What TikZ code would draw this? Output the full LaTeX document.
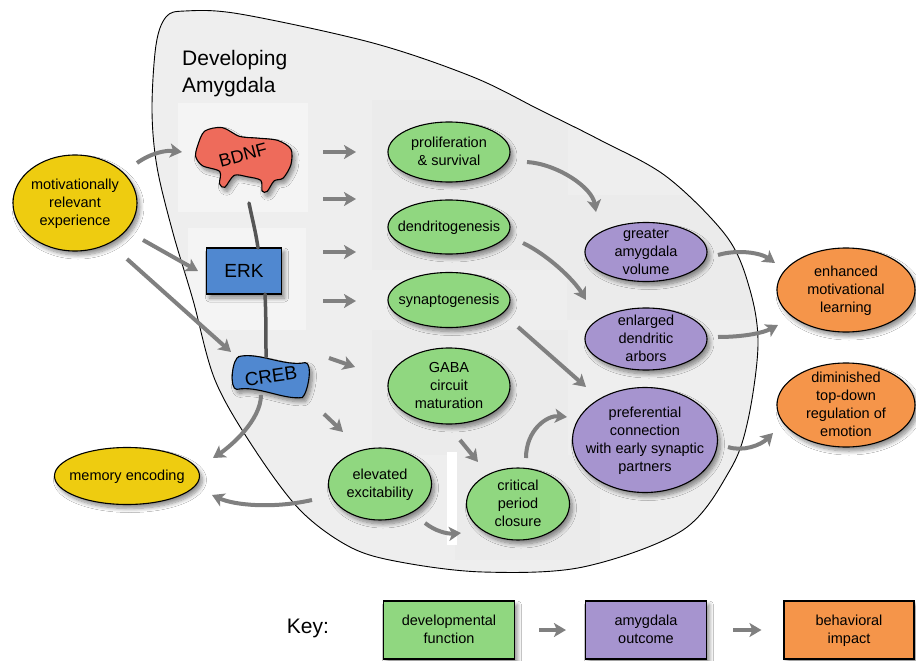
\documentclass[tikz,border=0pt]{standalone}
\usepackage{fontspec}
\setmainfont{Liberation Sans}
\usetikzlibrary{shapes.geometric,arrows.meta,calc,shadows.blur}
\definecolor{cyel}{RGB}{238,204,16}
\definecolor{cgreen}{RGB}{144,215,128}
\definecolor{cpurp}{RGB}{166,148,207}
\definecolor{corange}{RGB}{245,149,74}
\definecolor{cred}{RGB}{238,107,91}
\definecolor{cblue}{RGB}{80,136,208}
\definecolor{carrow}{RGB}{128,128,128}
\definecolor{cline}{RGB}{85,85,85}
\newcommand{\ztext}[1]{\makebox[0pt]{\raisebox{-0.3em}[0pt][0pt]{\begin{tabular}{@{}c@{}}#1\end{tabular}}}}
\def\amypath{plot[smooth cycle, tension=0.55] coordinates {(152,110) (156,45) (166,17) (185,11) (240,14) (373,43) (473,77) (540,110) (600,140) (667,177) (727,237) (750,290) (758,345) (748,420) (730,470) (683,530) (583,567) (483,572) (400,562) (350,547) (300,510) (253,447) (215,380) (193,300) (173,233) (157,167)}}
\begin{document}
\begin{tikzpicture}[x=1pt,y=-1pt,
  every node/.style={font=\fontsize{14.5}{18}\selectfont},
  shad/.style={blur shadow={shadow xshift=3pt,shadow yshift=-4pt,shadow blur steps=8,shadow opacity=45,shadow blur radius=4pt}},
  oval/.style={ellipse,draw=black,line width=1.1pt,inner sep=0pt,shad},
  gr/.style={oval,fill=cgreen},
  pu/.style={oval,fill=cpurp},
  orr/.style={oval,fill=corange},
  ye/.style={oval,fill=cyel},
  keybox/.style={rectangle,draw=black,line width=1.1pt,inner sep=0pt,minimum width=#1,minimum height=58pt,shad},
  arr/.style={draw=carrow,line width=4pt,-{Stealth[length=12pt,width=14pt,inset=3pt]}},
  link/.style={draw=cline,line width=3.5pt,line cap=round},
  big/.style={font=\fontsize{19}{23}\selectfont}
]
\useasboundingbox (0,0) rectangle (916,661);
\fill[white] (0,0) rectangle (916,661);

% amygdala region
\fill[black!6.5] \amypath;
\begin{scope}
  \clip \amypath;
  \fill[black!4.5] (178,103) rectangle (308,212);
  \fill[black!4.5] (188,228) rectangle (306,330);
  \fill[black!8] (372,100) rectangle (568,270);
  \fill[black!8] (567,195) rectangle (752,320);
  \fill[black!8] (372,330) rectangle (568,455);
  \fill[black!8] (455,455) rectangle (600,560);
\end{scope}
\draw[black,line width=0.9pt] \amypath;
\fill[white] (447,452) rectangle (457,545);

\node[anchor=north west,inner sep=0pt,align=left,font=\fontsize{21}{27}\selectfont] (title) at (182,50) {Developing\\Amygdala};

% signalling molecules
\begin{scope}[shift={(243,158)},rotate=-15]
  \path[draw=black,line width=1.1pt,fill=cred,shad] plot[smooth cycle,tension=0.5] coordinates {(-47,0) (-44,-16) (-28,-24) (-9,-20) (9,-23) (29,-26) (44,-21) (48,-6) (44,9) (36,14) (32,26) (27,27) (23,17) (9,17) (-4,19) (-10,33) (-16,31) (-19,19) (-37,18) (-46,11)};
\end{scope}
\node[font=\fontsize{18}{22}\selectfont,rotate=15] (bdnf) at (243,155) {BDNF};

\node[rectangle,draw=black,line width=1.1pt,fill=cblue,minimum width=75pt,minimum height=46pt,big,shad] (erk) at (244,271) {ERK};

\begin{scope}[shift={(271,376)},rotate=-8]
  \path[draw=black,line width=1.1pt,fill=cblue,shad] (-34,-15) .. controls (-15,-22) and (12,-11) .. (32,-18) .. controls (40,-19) and (39,11) .. (34,17) .. controls (15,22) and (-12,11) .. (-32,18) .. controls (-40,19) and (-41,-13) .. cycle;
\end{scope}
\node[big,rotate=8] (creb) at (271,376) {CREB};

% links between molecules
\draw[link] ($(bdnf)+(6,48)$) .. controls +(3,15) and +(-2,-15) .. ($(erk)+(14,-23)$);
\draw[link] ($(erk)+(21,23)$) .. controls +(1,20) and +(0,-20) .. ($(creb)+(-5,-19)$);

% nodes
\node[ye,minimum width=124pt,minimum height=96pt] (mot) at (75,203) {\ztext{motivationally\\relevant\\experience}};
\node[ye,minimum width=145pt,minimum height=57pt] (mem) at (127,476) {\ztext{memory encoding}};

\node[gr,minimum width=122pt,minimum height=60pt] (prolif) at (449,152) {\ztext{proliferation\\\& survival}};
\node[gr,minimum width=122pt,minimum height=54pt] (dend) at (449,227) {\ztext{dendritogenesis}};
\node[gr,minimum width=122pt,minimum height=55pt] (synap) at (449,300) {\ztext{synaptogenesis}};
\node[gr,minimum width=122pt,minimum height=76pt] (gaba) at (449,386) {\ztext{GABA\\circuit\\maturation}};
\node[gr,minimum width=103pt,minimum height=72pt] (elev) at (380,484) {\ztext{elevated\\excitability}};
\node[gr,minimum width=103pt,minimum height=72pt] (crit) at (518,504) {\ztext{critical\\period\\closure}};

\node[pu,minimum width=122pt,minimum height=59pt] (greater) at (646,252) {\ztext{greater\\amygdala\\volume}};
\node[pu,minimum width=122pt,minimum height=62pt] (enlarged) at (646,339) {\ztext{enlarged\\dendritic\\arbors}};
\node[pu,minimum width=145pt,minimum height=105pt] (pref) at (645,440) {\ztext{preferential\\connection\\with early synaptic\\partners}};

\node[orr,minimum width=138pt,minimum height=84pt] (enh) at (846,290) {\ztext{enhanced\\motivational\\learning}};
\node[orr,minimum width=138pt,minimum height=84pt] (dim) at (846,405) {\ztext{diminished\\top-down\\regulation of\\emotion}};

% arrows
\draw[arr] ($(mot)+(62,-40)$) .. controls +(14,-10) and +(-16,-2) .. ($(bdnf)+(-61,-3)$);
\draw[arr] ($(mot)+(68,37)$) -- ($(erk)+(-46,0)$);
\draw[arr] ($(mot)+(52,56)$) -- ($(creb)+(-40,-24)$);
\draw[arr] ($(prolif)+(-126,0)$) -- ($(prolif)+(-93,0)$);
\draw[arr] ($(dend)+(-126,-28)$) -- ($(dend)+(-93,-28)$);
\draw[arr] ($(dend)+(-126,25)$) -- ($(dend)+(-93,25)$);
\draw[arr] ($(synap)+(-126,1)$) -- ($(synap)+(-93,1)$);
\draw[arr] ($(creb)+(58,-18)$) -- ($(gaba)+(-94,-19)$);
\draw[arr] ($(creb)+(53,38)$) -- ($(elev)+(-37,-52)$);
\draw[arr] ($(gaba)+(11,54)$) -- ($(crit)+(-40,-42)$);
\draw[arr] ($(elev)+(45,39)$) .. controls +(10,8) and +(-14,1) .. ($(crit)+(-57,29)$);
\draw[arr] ($(crit)+(8,-46)$) .. controls +(0,-28) and +(-20,-2) .. ($(pref)+(-78,-23)$);
\draw[arr] ($(elev)+(-68,16)$) .. controls +(-40,9) and +(22,10) .. ($(mem)+(85,19)$);
\draw[arr] ($(creb)+(-10,19)$) .. controls +(0,25) and +(18,-12) .. ($(mem)+(86,-18)$);
\draw[arr] ($(prolif)+(78,10)$) .. controls +(30,2) and +(-4,-25) .. ($(greater)+(-50,-40)$);
\draw[arr] ($(dend)+(74,16)$) .. controls +(25,12) and +(-12,-20) .. ($(enlarged)+(-60,-39)$);
\draw[arr] ($(synap)+(69,27)$) -- ($(pref)+(-59,-53)$);
\draw[arr] ($(greater)+(72,3)$) .. controls +(20,-6) and +(-14,-10) .. ($(enh)+(-71,-27)$);
\draw[arr] ($(enlarged)+(72,-2)$) .. controls +(25,0) and +(-15,8) .. ($(enh)+(-68,35)$);
\draw[arr] ($(pref)+(83,7)$) .. controls +(15,5) and +(-12,12) .. ($(dim)+(-73,28)$);

% key
\node[font=\fontsize{21}{25}\selectfont] (key) at (308,628) {Key:};
\node[keybox=131pt,fill=cgreen] (k1) at (449,630) {\ztext{developmental\\function}};
\node[keybox=121pt,fill=cpurp] (k2) at (646,630) {\ztext{amygdala\\outcome}};
\node[keybox=130pt,fill=corange] (k3) at (849,630) {\ztext{behavioral\\impact}};
\draw[arr] ($(k1.east)+(24,0)$) -- ($(k2.west)+(-19,0)$);
\draw[arr] ($(k2.east)+(26,0)$) -- ($(k3.west)+(-22,0)$);
\end{tikzpicture}
\end{document}
